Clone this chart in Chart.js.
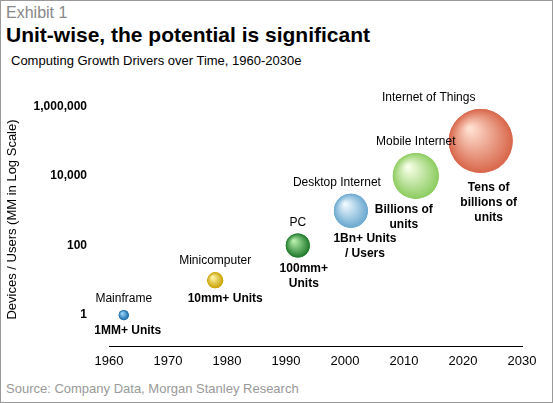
<!DOCTYPE html>
<html><head><meta charset="utf-8">
<script src="https://cdn.jsdelivr.net/npm/chart.js@4"></script>
<style>
body{margin:0;background:#fff;font-family:"Liberation Sans",Arial,sans-serif}
#wrap{position:relative;width:551px;height:401px;border:1px solid #999;overflow:hidden}
.t{position:absolute;white-space:nowrap}
</style></head><body>
<div id="wrap">
<div class="t" style="left:5px;top:3px;font-size:16px;color:#888">Exhibit 1</div>
<div class="t" style="left:5px;top:22px;font-size:21px;font-weight:bold;color:#000">Unit-wise, the potential is significant</div>
<div class="t" style="left:10px;top:52px;font-size:13px;color:#000">Computing Growth Drivers over Time, 1960-2030e</div>
<div class="t" style="left:5px;top:380px;font-size:13px;color:#999">Source: Company Data, Morgan Stanley Research</div>
<div style="position:absolute;left:0;top:60px;width:553px;height:320px"><canvas id="c"></canvas></div>
</div>
<script>
var names = ['Mainframe','Minicomputer','PC','Desktop Internet','Mobile Internet','Internet of Things'];
var years = [1962.5, 1978, 1992, 2001, 2012, 2023];
var units = [1, 10, 100, 1000, 10000, 100000];
var sizes = [5, 8, 12, 17, 23, 32];
var notes = [['1MM+ Units'],['10mm+ Units'],['100mm+','Units'],['1Bn+ Units','/ Users'],['Billions of','units'],['Tens of','billions of','units']];
var colors = [['#a0dcff','#1a6aa8'],['#fff6b0','#c9a100'],['#b8f0b0','#1f7a2a'],['#f0faff','#6aa8d0'],['#f8ffe8','#8ccc60'],['#ffe0d0','#d8664a']];
var yTicks = [1, 100, 10000, 1000000];

var spherePlugin = {
  id: 'spheres',
  afterDatasetsDraw: function(chart) {
    var ctx = chart.ctx, meta = chart.getDatasetMeta(0);
    ctx.save();
    meta.data.forEach(function(el, i) {
      var r = sizes[i];
      var g = ctx.createRadialGradient(el.x - r * 0.35, el.y - r * 0.4, r * 0.05, el.x, el.y, r);
      g.addColorStop(0, colors[i][0]);
      g.addColorStop(1, colors[i][1]);
      ctx.fillStyle = g;
      ctx.beginPath(); ctx.arc(el.x, el.y, r, 0, Math.PI * 2); ctx.fill();
    });
    ctx.restore();
  }
};

var labelPlugin = {
  id: 'labels',
  afterDatasetsDraw: function(chart) {
    var ctx = chart.ctx, x = chart.scales.x, y = chart.scales.y;
    ctx.save();
    ctx.fillStyle = '#000';
    ctx.textAlign = 'center';
    for (var i = 0; i < names.length; i++) {
      var px = x.getPixelForValue(years[i]), py = y.getPixelForValue(units[i]), r = sizes[i];
      ctx.font = '12px "Liberation Sans", Arial';
      ctx.fillText(names[i], i == 5 ? px - 52 : px - (i == 3 ? 14 : 0), py - r - 8);
      ctx.font = 'bold 12px "Liberation Sans", Arial';
      var nx = [px + 4, px + 10, px + 6, px + 14, px - 12, px + 8][i];
      var ny = py + r + 14 + (i == 5 ? 4 : 0);
      notes[i].forEach(function(s, k){ ctx.fillText(s, nx, ny + k * 15); });
    }
    ctx.restore();
  }
};

new Chart(document.getElementById('c'), {
  type: 'bubble',
  data: { datasets: [{
    data: years.map(function(v, i){ return {x: v, y: units[i], r: sizes[i]}; }),
    backgroundColor: colors.map(function(c){ return c[1]; }),
    borderWidth: 0,
    hoverRadius: 0
  }]},
  options: {
    responsive: true, maintainAspectRatio: false, animation: false,
    layout: { padding: { top: 14, right: 23 } },
    plugins: { legend: { display: false }, tooltip: { enabled: false } },
    scales: {
      x: {
        type: 'linear', min: 1960, max: 2030,
        grid: { display: false, drawTicks: true, tickLength: 5 },
        border: { color: '#000' },
        ticks: { stepSize: 10, color: '#000', font: { size: 13 }, callback: function(v){ return v; } },
        afterFit: function(s){ s.height = 35; }
      },
      y: {
        type: 'logarithmic', min: 0.13, max: 2400000,
        grid: { display: false },
        border: { display: false },
        afterBuildTicks: function(s){ s.ticks = yTicks.map(function(v){ return {value: v}; }); },
        ticks: { color: '#000', padding: 14, font: { size: 12, weight: 'bold' }, callback: function(v){ return Number(v).toLocaleString('en-US'); } },
        title: { display: true, text: 'Devices / Users (MM in Log Scale)', color: '#000', font: { size: 13 } },
        afterFit: function(s){ s.width = 108; }
      }
    }
  },
  plugins: [spherePlugin, labelPlugin]
});
</script>
</body></html>
